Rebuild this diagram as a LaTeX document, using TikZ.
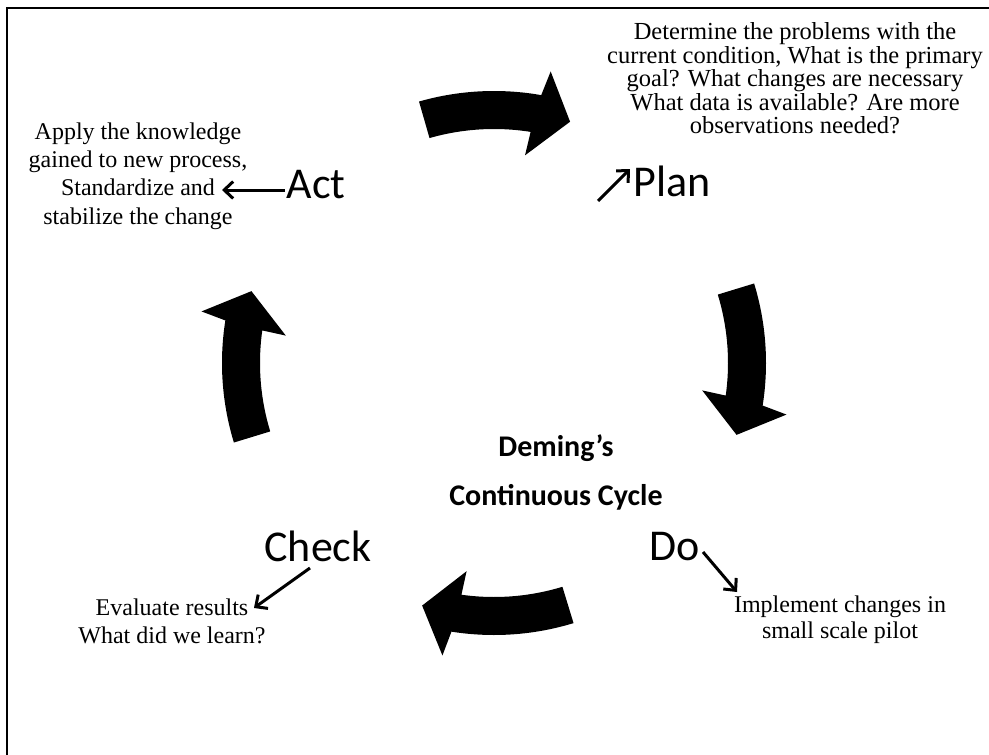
\documentclass[tikz,border=0pt]{standalone}
\usepackage{fontspec}
\setmainfont{Liberation Serif}
\newfontfamily\labelfont{Carlito}
\usetikzlibrary{arrows.meta,calc}

% one thick curved block arrow of the cycle; #1 = angle of its tail
\newcommand\cyclearrow[1]{%
  \fill[shift={(C)}] (#1:272) arc[start angle=#1, end angle=#1-26, radius=272]
    -- (#1-27:297) -- (#1-33.5:253) -- (#1-24.5:210) -- (#1-25:234)
    arc[start angle=#1-25, end angle=#1, radius=234] -- cycle;}

\begin{document}
\begin{tikzpicture}[x=1pt,y=1pt,
  note/.style={font=\fontsize{24}{28.3}\selectfont, align=center, inner sep=0pt},
  stage/.style={font=\labelfont\fontsize{44}{44}\selectfont, inner sep=0pt, anchor=base},
  ptr/.style={line width=3pt, -{Straight Barb[length=9pt,width=17pt]}}]
\useasboundingbox (0,0) rectangle (989,-755);
\draw[line width=2pt] (7,-755) -- (7,-7.5) -- (989,-7.5);

% the four arrows of the cycle
\coordinate (C) at (494,-363);
\cyclearrow{106}
\cyclearrow{17}
\cyclearrow{-73}
\cyclearrow{-163}

% centre title
\node[font=\labelfont\bfseries\fontsize{30}{49}\selectfont, align=center] (title) at (556,-472)
  {Deming’s\\ Continuous Cycle};

% stage names
\node[stage] (act) at (316,-198) {Act};
\node[stage] (plan) at (672,-196) {Plan};
\node[stage] (check) at (318,-561) {Check};
\node[stage] (do) at (675,-560) {Do};

% descriptions
\node[note, font=\fontsize{24.5}{23.5}\selectfont, anchor=north] (plantext) at (795,-22.5)
  {Determine the problems with the\\ current condition, What is the primary\\ goal? What changes are necessary\\ What data is available? Are more\\ observations needed?};
\node[note] (acttext) at (138,-176)
  {Apply the knowledge\\ gained to new process,\\ Standardize and\\ stabilize the change};
\node[note] (checktext) at (172,-621) {Evaluate results\\ What did we learn?};
\node[note, font=\fontsize{24}{26}\selectfont] (dotext) at (840,-620)
  {Implement changes in\\ small scale pilot};

% pointers from stage names to descriptions
\coordinate (actFrom) at (285,-190);   \coordinate (actTo) at (222,-190);
\coordinate (planFrom) at (598,-201);  \coordinate (planTo) at (630,-169);
\coordinate (checkFrom) at (310,-568); \coordinate (checkTo) at (254,-608);
\coordinate (doFrom) at (703,-552);    \coordinate (doTo) at (737,-592);
\draw[ptr] (actFrom) -- (actTo);
\draw[ptr] (planFrom) -- (planTo);
\draw[ptr] (checkFrom) -- (checkTo);
\draw[ptr] (doFrom) -- (doTo);
\end{tikzpicture}
\end{document}
